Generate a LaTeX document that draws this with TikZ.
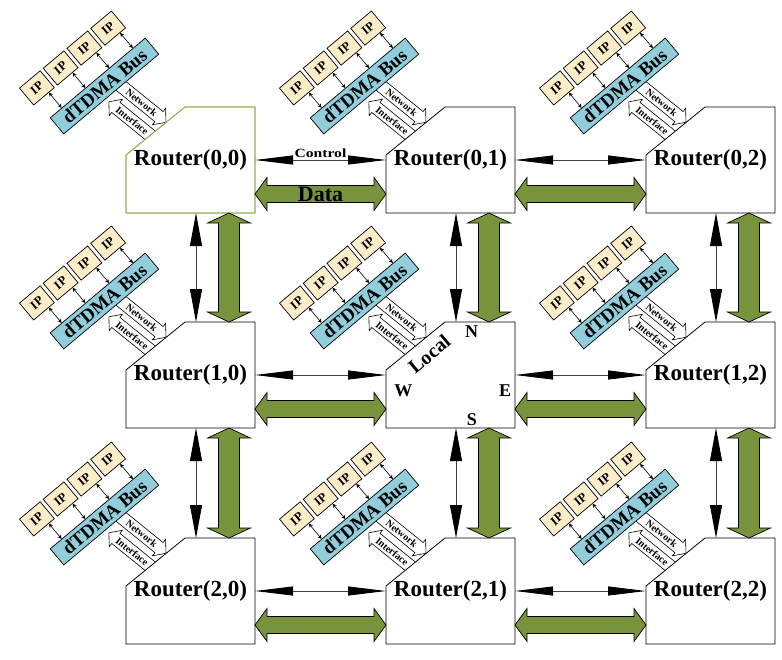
\documentclass[tikz,border=0pt]{standalone}
\usepackage{fontspec}
\setmainfont{Liberation Serif}
\usetikzlibrary{arrows.meta,calc}
\definecolor{olivefill}{HTML}{77933C}
\definecolor{oliveedge}{HTML}{8FAE55}
\definecolor{ipfill}{HTML}{FDEDC8}
\definecolor{busfill}{HTML}{92CDDC}
\tikzset{
  rline/.style={line width=0.8pt, fill=white, line join=miter},
  routerbox/.style={inner sep=0pt, outer sep=0pt, minimum width=129pt, minimum height=106pt},
  rlabel/.style={font=\fontsize{23}{26}\selectfont\bfseries, inner sep=0pt},
  dirlabel/.style={font=\fontsize{18}{20}\selectfont\bfseries, inner sep=0pt},
  thinh/.style={draw=black!75, line width=0.9pt, {Triangle[length=38pt,width=9pt,color=black]}-{Triangle[length=38pt,width=9pt,color=black]}},
  thinv/.style={draw=black!75, line width=0.9pt, {Triangle[length=33pt,width=12pt,color=black]}-{Triangle[length=33pt,width=12pt,color=black]}},
  greenarr/.style={fill=olivefill, draw=black, line width=0.7pt, line join=miter},
  ipbox/.style={draw=black, line width=0.7pt, fill=ipfill, minimum width=27pt, minimum height=22pt, inner sep=0pt, font=\fontsize{12.5}{12.5}\selectfont\bfseries, transform shape},
  busbox/.style={draw=black, line width=0.7pt, fill=busfill, minimum width=124pt, minimum height=21pt, inner sep=0pt, font=\fontsize{19}{19}\selectfont\bfseries, transform shape},
  smallarr/.style={draw=black, line width=0.6pt, {Stealth[length=4pt,width=4pt]}-{Stealth[length=4pt,width=4pt]}},
  niarr/.style={draw=black, line width=0.6pt, fill=white, line join=miter},
  nitext/.style={font=\fontsize{10}{10}\selectfont\bfseries, inner sep=0pt, transform shape, rotate=-90},
  ctrllabel/.style={font=\fontsize{12.5}{13}\selectfont\bfseries, inner sep=0pt, xscale=1.25},
  datalabel/.style={font=\fontsize{22}{24}\selectfont\bfseries, inner sep=0pt},
  locallabel/.style={font=\fontsize{20}{20}\selectfont\bfseries, inner sep=0pt, rotate=40},
}
\newcommand{\cell}[6]{%
  \begin{scope}[shift={(#2,#3)}]
    \begin{scope}[shift={(-21.5,-21)}, rotate=40]
      \begin{scope}[shift={(0,10.5)}, rotate=11]
        \draw[niarr] (6,-6) -- (6,51.3) -- (2,51.3) -- (12.5,60.3) -- (23,51.3) -- (19,51.3) -- (19,-6) -- cycle;
        \draw[niarr] (-14,78) -- (-14,12) -- (-18,12) -- (-7.5,3) -- (3,12) -- (-1,12) -- (-1,78) -- cycle;
        \node[nitext] (#1net) at (12.5,29) {Network};
        \node[nitext] (#1int) at (-7.5,33) {Interface};
      \end{scope}
    \end{scope}
    \draw[rline, draw=#5, line width=#6] (0,48) -- (59,0) -- (129,0) -- (129,106) -- (0,106) -- cycle;
    \node[routerbox] (#1) at (64.5,53) {};
    \node[rlabel] (#1t) at (64.5,53) {#4};
    \begin{scope}[shift={(-21.5,-21)}, rotate=40]
      \node[busbox] (#1bus) at (0,0) {dTDMA Bus};
      \foreach \pos [count=\k] in {-53,-22,9,40}{
        \node[ipbox] (#1ip\k) at (\pos,-42) {IP};
        \coordinate (#1a\k) at ($(#1ip\k.south)!0.44!(#1ip\k.south east)$);
        \draw[smallarr] (#1a\k) -- ($(#1bus.north west)!(#1a\k)!(#1bus.north east)$);
      }
    \end{scope}
  \end{scope}}
\newcommand{\hgreen}[3]{%
  \coordinate (#1L) at ($(#2.east)+(0,34)$);
  \coordinate (#1R) at ($(#3.west)+(0,34)$);
  \draw[greenarr] (#1L) -- ($(#1L)+(12,-16.5)$) -- ($(#1L)+(12,-8.5)$) -- ($(#1R)+(-12,-8.5)$) -- ($(#1R)+(-12,-16.5)$) -- (#1R) -- ($(#1R)+(-12,16.5)$) -- ($(#1R)+(-12,8.5)$) -- ($(#1L)+(12,8.5)$) -- ($(#1L)+(12,16.5)$) -- cycle;}
\newcommand{\vgreen}[3]{%
  \coordinate (#1T) at ($(#2.south west)+(103,0)$);
  \coordinate (#1B) at ($(#3.north west)+(103,0)$);
  \draw[greenarr] (#1T) -- ($(#1T)+(21.5,10)$) -- ($(#1T)+(10.5,10)$) -- ($(#1B)+(10.5,-10)$) -- ($(#1B)+(21.5,-10)$) -- (#1B) -- ($(#1B)+(-21.5,-10)$) -- ($(#1B)+(-10.5,-10)$) -- ($(#1T)+(-10.5,10)$) -- ($(#1T)+(-21.5,10)$) -- cycle;}
\newcommand{\vthin}[2]{%
  \draw[thinv] ($(#1.south west)+(70,0)$) -- ($(#2.north west)+(70,0)$);}
\begin{document}
\begin{tikzpicture}[x=1pt, y=-1pt]
\fill[white] (0,0) rectangle (782,659);
\useasboundingbox (0,0) rectangle (782,659);
\cell{r00}{126}{107}{Router(0,0)}{oliveedge}{1.1pt}
\cell{r01}{386}{107}{Router(0,1)}{black}{0.8pt}
\cell{r02}{646}{107}{Router(0,2)}{black}{0.8pt}
\cell{r10}{126}{322}{Router(1,0)}{black}{0.8pt}
\cell{r11}{386}{322}{}{black}{0.8pt}
\cell{r12}{646}{322}{Router(1,2)}{black}{0.8pt}
\cell{r20}{126}{538}{Router(2,0)}{black}{0.8pt}
\cell{r21}{386}{538}{Router(2,1)}{black}{0.8pt}
\cell{r22}{646}{538}{Router(2,2)}{black}{0.8pt}
% centre router port labels
\node[dirlabel] (lblN) at (471.7,331.8) {N};
\node[dirlabel] (lblW) at (403.3,390.3) {W};
\node[dirlabel] (lblE) at (505,390.3) {E};
\node[dirlabel] (lblS) at (471.8,419.3) {S};
\node[locallabel] (lblLocal) at (429.3,354) {Local};
% horizontal control links
\draw[thinh] (r00.east) -- node[ctrllabel, above=1.5pt] (ctrl) {Control} (r01.west);
\draw[thinh] (r01.east) -- (r02.west);
\draw[thinh] (r10.east) -- (r11.west);
\draw[thinh] (r11.east) -- (r12.west);
\draw[thinh] (r20.east) -- (r21.west);
\draw[thinh] (r21.east) -- (r22.west);
% horizontal data links
\hgreen{g0a}{r00}{r01}
\hgreen{g0b}{r01}{r02}
\hgreen{g1a}{r10}{r11}
\hgreen{g1b}{r11}{r12}
\hgreen{g2a}{r20}{r21}
\hgreen{g2b}{r21}{r22}
\node[datalabel] (datalbl) at ($(g0aL)!0.5!(g0aR)$) {Data};
% vertical links
\vthin{r00}{r10}
\vthin{r10}{r20}
\vthin{r01}{r11}
\vthin{r11}{r21}
\vthin{r02}{r12}
\vthin{r12}{r22}
\vgreen{v0a}{r00}{r10}
\vgreen{v0b}{r10}{r20}
\vgreen{v1a}{r01}{r11}
\vgreen{v1b}{r11}{r21}
\vgreen{v2a}{r02}{r12}
\vgreen{v2b}{r12}{r22}
\end{tikzpicture}
\end{document}
